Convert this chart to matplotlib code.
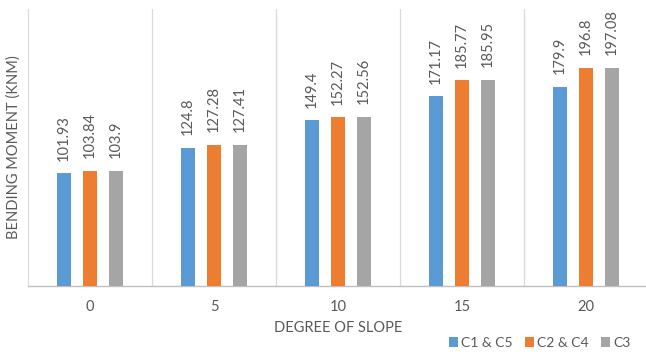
import numpy as np
import matplotlib
matplotlib.use("Agg")
import matplotlib.pyplot as plt

# Data
slopes = ["0", "5", "10", "15", "20"]
series_names = ["C1 & C5", "C2 & C4", "C3"]
c1_c5 = [101.93, 124.8, 149.4, 171.17, 179.9]
c2_c4 = [103.84, 127.28, 152.27, 185.77, 196.8]
c3 = [103.9, 127.41, 152.56, 185.95, 197.08]
colors = ["#5B9BD5", "#ED7D31", "#A5A5A5"]

plt.rcParams["font.family"] = ["Lato", "DejaVu Sans"]
text_col = "#595959"

fig = plt.figure(figsize=(6.46, 3.54), dpi=100)
ax = fig.add_axes([28 / 646, 1 - 286 / 354, 620 / 646, 277 / 354])

x = np.arange(len(slopes))
width = 0.11
step = 0.21
all_series = [c1_c5, c2_c4, c3]
for i, (vals, name, col) in enumerate(zip(all_series, series_names, colors)):
    pos = x + (i - 1) * step
    ax.bar(pos, vals, width=width, color=col, label=name, zorder=3)
    for xp, v in zip(pos, vals):
        ax.annotate(f"{v:g}", (xp, v), xytext=(0, 9), textcoords="offset points",
                    rotation=90, ha="center", va="bottom", fontsize=10.5, color=text_col)

ax.set_xlim(-0.5, len(slopes) - 0.5)
ax.set_ylim(0, 250)
ax.set_yticks([])
ax.set_xticks(x)
ax.set_xticklabels(slopes, fontsize=10.5, color=text_col)
ax.tick_params(axis="x", length=0, pad=10)

# category separators
for b in np.arange(0.5, len(slopes) - 0.5, 1):
    ax.axvline(b, color="#D9D9D9", lw=0.9, zorder=1)

for s in ["top", "right"]:
    ax.spines[s].set_visible(False)
ax.spines["left"].set_color("#D9D9D9")
ax.spines["bottom"].set_color("#BFBFBF")
ax.spines["bottom"].set_linewidth(1.0)

ax.set_ylabel("BENDING MOMENT (KNM)", fontsize=10.5, color=text_col, labelpad=5)
ax.set_xlabel("DEGREE OF SLOPE", fontsize=10.5, color=text_col, labelpad=5)

fig.legend(loc="lower right", bbox_to_anchor=(0.995, -0.02), ncol=3, frameon=False,
           fontsize=10, handlelength=0.6, handleheight=0.7, handletextpad=0.25,
           columnspacing=0.9, labelcolor=text_col)

fig.savefig("out.png", dpi=100)
